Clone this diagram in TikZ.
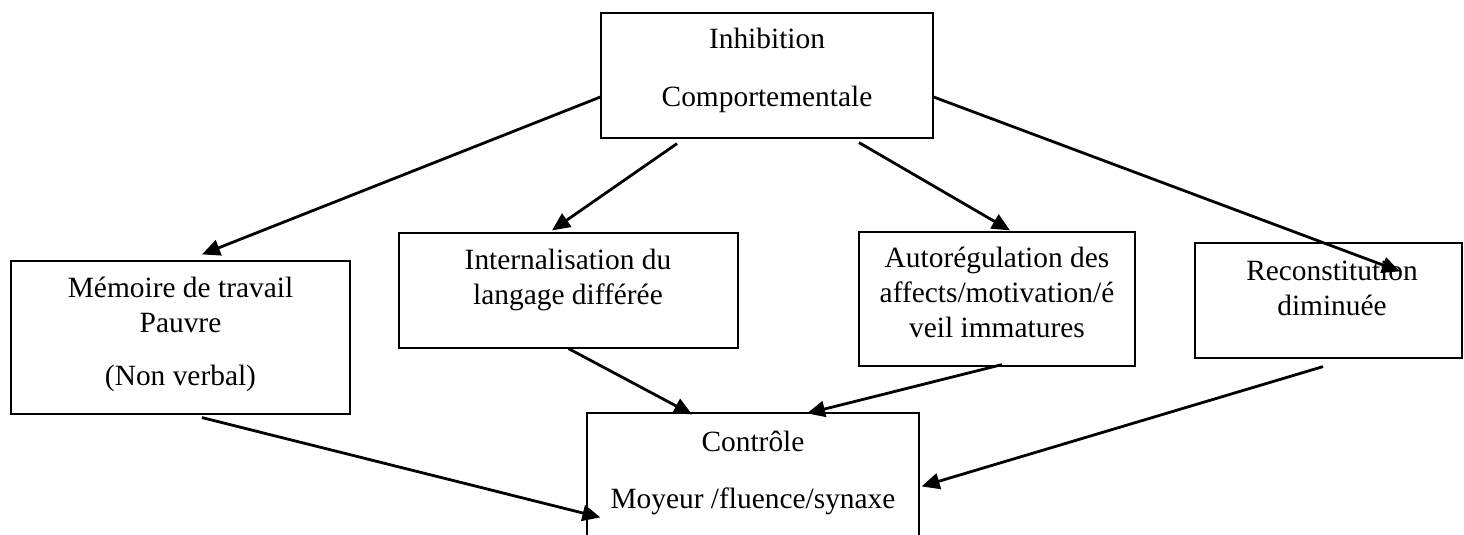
\documentclass[tikz,border=0pt]{standalone}
\usepackage{fontspec}
\setmainfont{Liberation Serif}
\usetikzlibrary{calc,arrows.meta}

\begin{document}
\begin{tikzpicture}[x=0.5pt,y=-0.5pt,
  box/.style={draw, line width=0.6pt, rectangle, inner sep=0pt},
  txt/.style={anchor=base, inner sep=0pt, font=\fontsize{14.7pt}{17pt}\selectfont},
  link/.style={line width=1.4pt, -{Triangle[length=9pt,width=8pt]}}]
\useasboundingbox (0,0) rectangle (1464,535);

% boxes
\node[box, minimum width=166pt, minimum height=62.5pt] (top) at (767,75.5) {};
\node[box, minimum width=169.5pt, minimum height=76.5pt] (mem) at (180.5,337.5) {};
\node[box, minimum width=169.5pt, minimum height=57.5pt] (intl) at (568.5,290.5) {};
\node[box, minimum width=138pt, minimum height=67pt] (auto) at (997,299) {};
\node[box, minimum width=133.5pt, minimum height=57.5pt] (recon) at (1328.5,300.5) {};
\node[box, minimum width=166pt, minimum height=73.5pt] (ctrl) at (753,486.5) {};

% labels
\node[txt] (t1) at (767,49) {Inhibition};
\node[txt] (t2) at (767,107) {Comportementale};
\node[txt] (m1) at (180.5,298) {Mémoire de travail};
\node[txt] (m2) at (180.5,333) {Pauvre};
\node[txt] (m3) at (180.5,386) {(Non verbal)};
\node[txt] (i1) at (568,270) {Internalisation du};
\node[txt] (i2) at (568,305) {langage différée};
\node[txt] (a1) at (997,268) {Autorégulation des};
\node[txt] (a2) at (997,302) {affects/motivation/é};
\node[txt] (a3) at (997,337) {veil immatures};
\node[txt] (r1) at (1332,280) {Reconstitution};
\node[txt] (r2) at (1332,315) {diminuée};
\node[txt] (c1) at (753,451) {Contrôle};
\node[txt] (c2) at (753,508) {Moyeur /fluence/synaxe};

% connectors
\draw[link] ($(top.west)+(0,21.5)$) -- ($(mem.north)+(21.5,-6)$);
\draw[link] ($(top.south)+(-90,5)$) -- ($(intl.north)+(-16.5,-2)$);
\draw[link] ($(top.south)+(92,4)$) -- ($(auto.north)+(13,-1)$);
\draw[link] ($(top.east)+(0,21.5)$) -- ($(recon.north)+(71.5,29)$);
\draw[link] ($(mem.south)+(21.5,3)$) -- ($(ctrl.north west)+(14,105)$);
\draw[link] (intl.south) -- ($(ctrl.north)+(-61,2)$);
\draw[link] ($(auto.south)+(5,-2)$) -- ($(ctrl.north)+(54,1)$);
\draw[link] ($(recon.south)+(-5.5,8)$) -- ($(ctrl.north east)+(2,74)$);
\end{tikzpicture}
\end{document}
